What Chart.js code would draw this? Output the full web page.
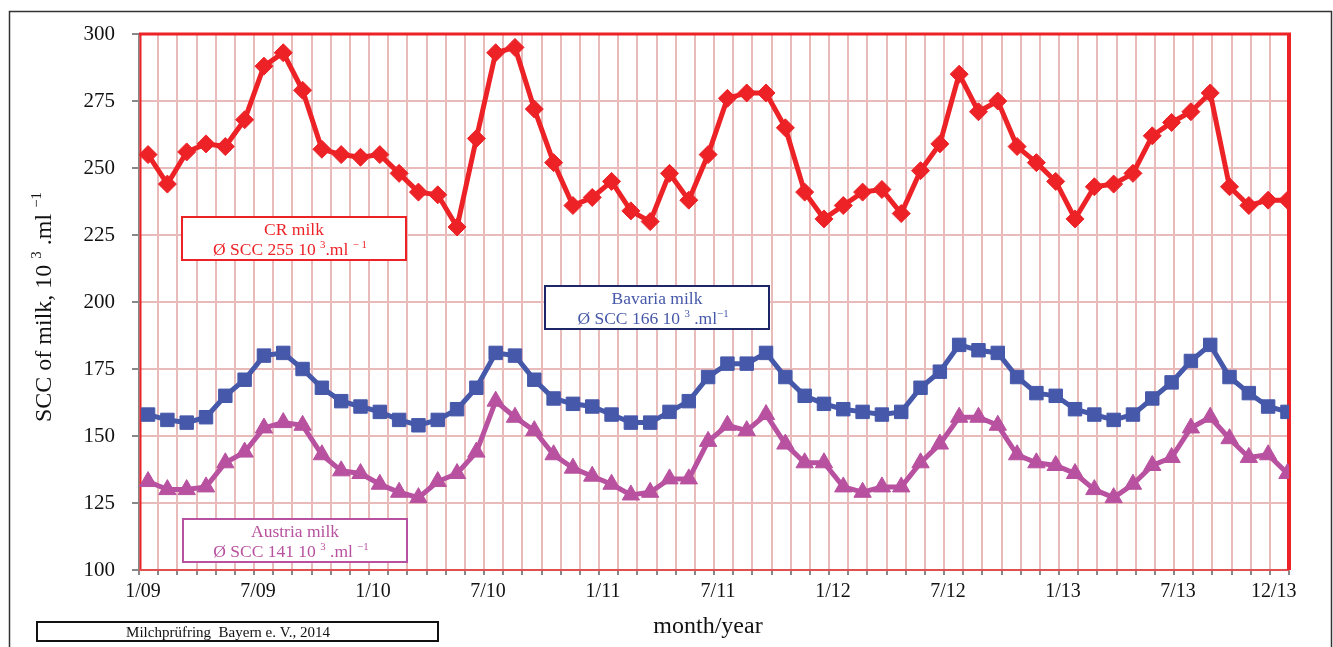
<!DOCTYPE html>
<html lang="en">
<head>
<meta charset="UTF-8" />
<title>SCC of milk</title>
<script src="https://cdn.jsdelivr.net/npm/chart.js"></script>
<style>
body { margin: 0; background: #fff; }
#wrap { position: relative; width: 1333px; height: 647px; }
</style>
</head>
<body>
<div id="wrap"><canvas id="myChart"></canvas></div>

<script>
// months 1/09 .. 12/13
const categories = [
  '1/09','2/09','3/09','4/09','5/09','6/09','7/09','8/09','9/09','10/09','11/09','12/09',
  '1/10','2/10','3/10','4/10','5/10','6/10','7/10','8/10','9/10','10/10','11/10','12/10',
  '1/11','2/11','3/11','4/11','5/11','6/11','7/11','8/11','9/11','10/11','11/11','12/11',
  '1/12','2/12','3/12','4/12','5/12','6/12','7/12','8/12','9/12','10/12','11/12','12/12',
  '1/13','2/13','3/13','4/13','5/13','6/13','7/13','8/13','9/13','10/13','11/13','12/13'
];
const tickLabels = ['1/09','7/09','1/10','7/10','1/11','7/11','1/12','7/12','1/13','7/13','12/13'];
const yTicks = [100, 125, 150, 175, 200, 225, 250, 275, 300];

const crMilk = [
  255,244,256,259,258,268,288,293,279,257,255,254,
  255,248,241,240,228,261,293,295,272,252,236,239,
  245,234,230,248,238,255,276,278,278,265,241,231,
  236,241,242,233,249,259,285,271,275,258,252,245,
  231,243,244,248,262,267,271,278,243,236,238,238
];
const bavariaMilk = [
  158,156,155,157,165,171,180,181,175,168,163,161,
  159,156,154,156,160,168,181,180,171,164,162,161,
  158,155,155,159,163,172,177,177,181,172,165,162,
  160,159,158,159,168,174,184,182,181,172,166,165,
  160,158,156,158,164,170,178,184,172,166,161,159
];
const austriaMilk = [
  133,130,130,131,140,144,153,155,154,143,137,136,
  132,129,127,133,136,144,163,157,152,143,138,135,
  132,128,129,134,134,148,154,152,158,147,140,140,
  131,129,131,131,140,147,157,157,154,143,140,139,
  136,130,127,132,139,142,153,157,149,142,143,136
];

const RED = '#ec2227', BLUE = '#4658a9', MAGENTA = '#b8519f';
const SERIF = "'Liberation Serif', 'Times New Roman', serif";
const toPts = arr => arr.map((v, i) => ({ x: i, y: v }));

// text with superscript parts: [text, isSup]
function drawRich(ctx, parts, x, y, size, color, align) {
  let w = 0;
  parts.forEach(p => {
    ctx.font = (p[1] ? size * 0.62 : size) + 'px ' + SERIF;
    w += ctx.measureText(p[0]).width;
  });
  let cx = align === 'center' ? x - w / 2 : x;
  ctx.fillStyle = color;
  ctx.textAlign = 'left';
  ctx.textBaseline = 'alphabetic';
  parts.forEach(p => {
    ctx.font = (p[1] ? size * 0.62 : size) + 'px ' + SERIF;
    ctx.fillText(p[0], cx, p[1] ? y - size * 0.42 : y);
    cx += ctx.measureText(p[0]).width;
  });
}

function textBox(ctx, x1, y1, x2, y2, border, color, title, parts) {
  ctx.save();
  ctx.fillStyle = '#fff';
  ctx.fillRect(x1, y1, x2 - x1, y2 - y1);
  ctx.strokeStyle = border;
  ctx.lineWidth = 2;
  ctx.strokeRect(x1, y1, x2 - x1, y2 - y1);
  const mid = (x1 + x2) / 2;
  drawRich(ctx, [[title, 0]], mid, y1 + 18, 17.5, color, 'center');
  drawRich(ctx, parts, mid - 4, y1 + 38, 17.5, color, 'center');
  ctx.restore();
}

const decor = {
  id: 'decor',
  beforeDatasetsDraw(chart) {
    const ctx = chart.ctx, a = chart.chartArea;
    ctx.save();
    ctx.strokeStyle = RED;
    ctx.lineWidth = 2;
    ctx.beginPath(); ctx.moveTo(a.left + 1.5, a.top); ctx.lineTo(a.left + 1.5, a.bottom); ctx.stroke();
    ctx.strokeStyle = '#e05050';
    ctx.beginPath(); ctx.moveTo(a.left, a.bottom); ctx.lineTo(a.right, a.bottom); ctx.stroke();
    ctx.strokeStyle = RED;
    ctx.lineWidth = 3;
    ctx.beginPath(); ctx.moveTo(a.left, a.top); ctx.lineTo(a.right + 2, a.top); ctx.stroke();
    ctx.lineWidth = 4;
    ctx.beginPath(); ctx.moveTo(a.right, a.top); ctx.lineTo(a.right, a.bottom); ctx.stroke();
    ctx.restore();
  },
  afterDraw(chart) {
    const ctx = chart.ctx;
    ctx.save();
    // outer frame
    ctx.strokeStyle = '#333';
    ctx.lineWidth = 1.5;
    ctx.strokeRect(9.5, 11.5, 1322, 660);

    // y axis title
    ctx.save();
    ctx.translate(51, 422);
    ctx.rotate(-Math.PI / 2);
    drawRich(ctx, [['SCC of milk, 10 ', 0], ['3', 1], [' .ml ', 0], ['\u22121', 1]], 0, 0, 24, '#111', 'left');
    ctx.restore();

    // x axis title
    ctx.font = '24px ' + SERIF;
    ctx.fillStyle = '#111';
    ctx.textAlign = 'center';
    ctx.textBaseline = 'alphabetic';
    ctx.fillText('month/year', 708, 633);

    // source box
    ctx.strokeStyle = '#111';
    ctx.lineWidth = 2;
    ctx.strokeRect(37, 622, 401, 19);
    ctx.font = '15px ' + SERIF;
    ctx.fillText('Milchprüfring  Bayern e. V., 2014', 228, 637);

    textBox(ctx, 182, 217, 406, 260, RED, RED, 'CR milk',
      [['Ø SCC 255 10 ', 0], ['3', 1], ['.ml ', 0], ['\u2212 1', 1]]);
    textBox(ctx, 545, 286, 769, 329, '#1d2768', BLUE, 'Bavaria milk',
      [['Ø SCC 166 10 ', 0], ['3', 1], [' .ml', 0], ['\u22121', 1]]);
    textBox(ctx, 183, 519, 407, 562, MAGENTA, MAGENTA, 'Austria milk',
      [['Ø SCC 141 10 ', 0], ['3', 1], [' .ml ', 0], ['\u22121', 1]]);
    ctx.restore();
  }
};

const ctx = document.getElementById('myChart').getContext('2d');
new Chart(ctx, {
  type: 'line',
  data: {
    datasets: [
      { label: 'CR milk', data: toPts(crMilk), xAxisID: 'xp', borderColor: RED, backgroundColor: RED,
        borderWidth: 5, pointStyle: 'rectRot', pointRadius: 9, pointBorderWidth: 1, tension: 0 },
      { label: 'Bavaria milk', data: toPts(bavariaMilk), xAxisID: 'xp', borderColor: BLUE, backgroundColor: BLUE,
        borderWidth: 5, pointStyle: 'rect', pointRadius: 9.5, pointBorderWidth: 1, tension: 0 },
      { label: 'Austria milk', data: toPts(austriaMilk), xAxisID: 'xp', borderColor: MAGENTA, backgroundColor: MAGENTA,
        borderWidth: 5, pointStyle: 'triangle', pointRadius: 10, pointBorderWidth: 1, tension: 0 }
    ]
  },
  options: {
    responsive: true,
    maintainAspectRatio: false,
    animation: false,
    layout: { padding: { top: 34, right: 44, left: 0, bottom: 0 } },
    plugins: { legend: { display: false }, tooltip: { enabled: false } },
    scales: {
      x: {
        type: 'linear', min: 0, max: categories.length,
        afterFit: s => { s.height = 77; },
        grid: { color: '#e8baba', lineWidth: 2, tickColor: '#888', tickLength: 5 },
        border: { color: '#888', width: 1.5 },
        ticks: {
          stepSize: 1, autoSkip: false, maxRotation: 0, padding: 5, labelOffset: 4,
          color: '#111', font: { family: SERIF, size: 20 },
          callback: v => tickLabels.includes(categories[v]) ? categories[v] : ''
        }
      },
      xp: { type: 'linear', display: false, min: -0.47, max: categories.length - 0.92 },
      y: {
        min: yTicks[0], max: yTicks[yTicks.length - 1],
        afterFit: s => { s.width = 139; },
        afterBuildTicks: s => { s.ticks = yTicks.map(v => ({ value: v })); },
        grid: { color: '#e8baba', lineWidth: 2, tickColor: '#888', tickLength: 7 },
        border: { color: '#888', width: 1.5 },
        ticks: { padding: 17, color: '#111', font: { family: SERIF, size: 21 } }
      }
    }
  },
  plugins: [decor]
});
</script>
</body>
</html>
